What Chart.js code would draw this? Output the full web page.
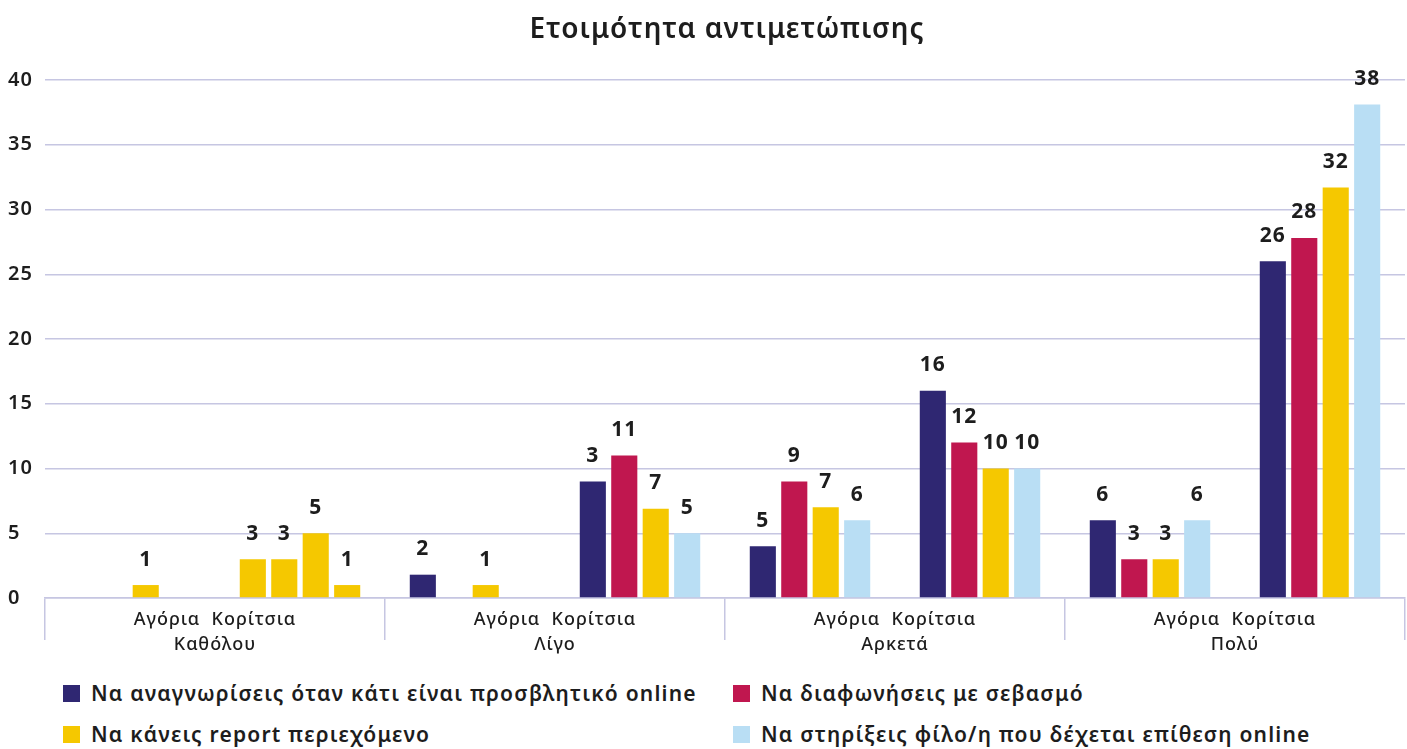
<!DOCTYPE html>
<html lang="el">
<head>
<meta charset="UTF-8">
<title>Ετοιμότητα αντιμετώπισης</title>
<style>
  html, body { margin: 0; padding: 0; background: #fff; }
  body { width: 1407px; height: 749px; overflow: hidden; position: relative; font-family: 'Noto Sans', sans-serif; }
  #titulo { position: absolute; left: 0; top: 9px; width: 1454px; text-align: center; font-size: 28px; font-weight: 600; letter-spacing: 1px; color: #1d1d1d; line-height: 36px; }
  #wrap { position: absolute; left: 0; top: 0; width: 1407px; height: 670px; }
  #legenda { position: absolute; left: 0; top: 670px; width: 1407px; height: 79px; }
  .item { position: absolute; display: flex; align-items: center; font-size: 21px; font-weight: 600; letter-spacing: 1.2px; color: #1d1d1d; white-space: nowrap; }
  .item span.caixa { display: inline-block; width: 17px; height: 17px; margin-right: 11px; }
</style>
</head>
<body>
<div id="wrap"><canvas id="grafico"></canvas></div>
<div id="titulo"></div>
<div id="legenda"></div>

<script src="https://cdn.jsdelivr.net/npm/chart.js"></script>
<script>
  // dados
  const titulo = 'Ετοιμότητα αντιμετώπισης';
  const categorias = ['Καθόλου', 'Λίγο', 'Αρκετά', 'Πολύ'];
  const subgrupos = ['Αγόρια', 'Κορίτσια'];
  const posicoes = ['Καθόλου Αγόρια', 'Καθόλου Κορίτσια', 'Λίγο Αγόρια', 'Λίγο Κορίτσια',
                    'Αρκετά Αγόρια', 'Αρκετά Κορίτσια', 'Πολύ Αγόρια', 'Πολύ Κορίτσια'];
  const ticksY = [0, 5, 10, 15, 20, 25, 30, 35, 40];

  const series = [
    'Να αναγνωρίσεις όταν κάτι είναι προσβλητικό online',
    'Να διαφωνήσεις με σεβασμό',
    'Να κάνεις report περιεχόμενο',
    'Να στηρίξεις φίλο/η που δέχεται επίθεση online'
  ];

  // altura das barras, como aparecem
  const anagnorises = [null, 3, 1.8, 9, 4, 16, 6, 26];
  const diafoniseis = [null, 3, null, 11, 9, 12, 3, 27.8];
  const report      = [1, 5, 1, 6.9, 7, 10, 3, 31.7];
  const stirixeis   = [null, 1, null, 5, 6, 10, 6, 38.1];

  // numeros escritos em cima das barras
  const rotAnagnorises = [null, 3, 2, 3, 5, 16, 6, 26];
  const rotDiafoniseis = [null, 3, null, 11, 9, 12, 3, 28];
  const rotReport      = [1, 5, 1, 7, 7, 10, 3, 32];
  const rotStirixeis   = [null, 1, null, 5, 6, 10, 6, 38];

  const cores = ['#2f2772', '#c0174f', '#f5c800', '#b9def4'];
  const corGrade = '#c6c6e2';
  const posicaoTodaAmarela = 1; // no original essa posição está toda em amarelo

  const valores = [anagnorises, diafoniseis, report, stirixeis];
  const rotulos = [rotAnagnorises, rotDiafoniseis, rotReport, rotStirixeis];

  document.getElementById('titulo').textContent = titulo;

  // a fonte do original é mais larga, abre um pouco as letras
  const pluginEspaco = {
    id: 'espaco',
    beforeUpdate(chart) { chart.ctx.letterSpacing = '1px'; },
    beforeDraw(chart) { chart.ctx.letterSpacing = '1px'; }
  };

  const pluginRotulos = {
    id: 'rotulos',
    afterDatasetsDraw(chart) {
      const ctx = chart.ctx;
      ctx.save();
      ctx.font = '700 21px "Noto Sans"';
      ctx.fillStyle = '#1d1d1d';
      ctx.textAlign = 'center';
      ctx.textBaseline = 'bottom';
      chart.data.datasets.forEach((ds, i) => {
        const meta = chart.getDatasetMeta(i);
        meta.data.forEach((barra, j) => {
          const txt = rotulos[i][j];
          if (txt === null || ds.data[j] === null) return;
          ctx.fillText(String(txt), barra.x, barra.y - 15);
        });
      });
      ctx.restore();
    }
  };

  const canvas = document.getElementById('grafico');
  canvas.width = 1407;
  canvas.height = 670;

  new Chart(canvas.getContext('2d'), {
    type: 'bar',
    data: {
      labels: posicoes,
      datasets: series.map((nome, i) => ({
        label: nome,
        data: valores[i],
        backgroundColor: c => c.dataIndex === posicaoTodaAmarela ? cores[2] : cores[i],
        borderWidth: 0,
        categoryPercentage: 0.74,
        barPercentage: 0.83,
        xAxisID: 'x'
      }))
    },
    options: {
      responsive: false,
      animation: false,
      layout: { padding: { left: 8, right: 2, top: 80, bottom: 0 } },
      plugins: {
        legend: { display: false },
        tooltip: { enabled: false },
        title: { display: false }
      },
      scales: {
        x: { display: false },
        x2: {
          type: 'category',
          labels: categorias.map(c => [subgrupos.join('  '), c]),
          offset: true,
          position: 'bottom',
          grid: { offset: true, drawOnChartArea: false, drawTicks: true, tickLength: 42, color: corGrade, lineWidth: 1.5 },
          border: { display: true, color: corGrade, width: 1.5 },
          ticks: { color: '#1d1d1d', font: { family: 'Noto Sans', size: 18, weight: '500', lineHeight: 1.35 }, padding: -32, maxRotation: 0 },
          afterFit(s) { s.height = 72; }
        },
        y: {
          min: 0,
          max: 40,
          afterBuildTicks(s) { s.ticks = ticksY.map(v => ({ value: v })); },
          grid: { color: corGrade, lineWidth: 1.5, drawTicks: false },
          border: { display: false },
          ticks: { color: '#1d1d1d', crossAlign: 'far', padding: 10, font: { family: 'Noto Sans', size: 20, weight: '600' } },
          afterFit(s) { s.width = 37; }
        }
      }
    },
    plugins: [pluginEspaco, pluginRotulos]
  });

  // legenda em grade 2x2
  const legenda = document.getElementById('legenda');
  const lugares = [[63, 24], [733, 24], [63, 65], [733, 65]];
  series.forEach((nome, i) => {
    const d = document.createElement('div');
    d.className = 'item';
    d.style.left = lugares[i][0] + 'px';
    d.style.top = (lugares[i][1] - 15) + 'px';
    d.innerHTML = '<span class="caixa" style="background:' + cores[i] + '"></span>' + nome;
    legenda.appendChild(d);
  });
</script>
</body>
</html>
